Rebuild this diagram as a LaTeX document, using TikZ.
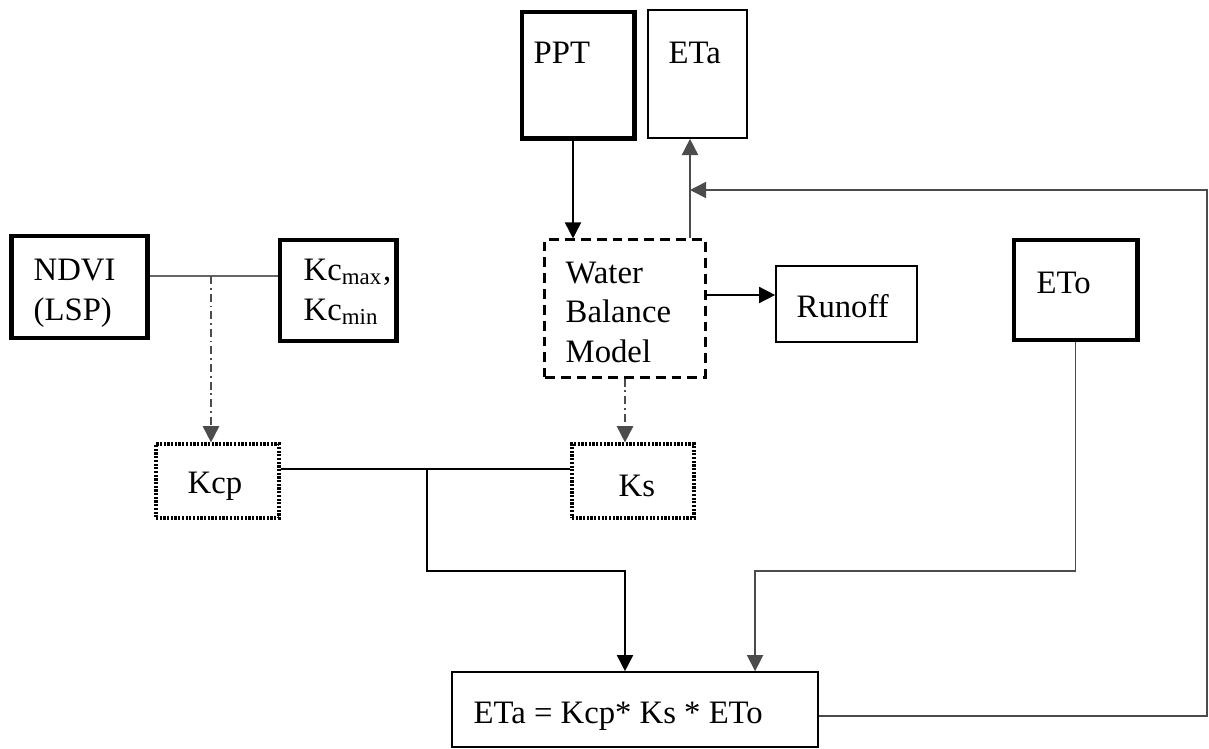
\documentclass[tikz,border=0pt]{standalone}
\usepackage{fontspec}
\setmainfont{Liberation Serif}
\usetikzlibrary{arrows.meta}

\tikzset{
	thickbox/.style = {draw, line width = 1.4pt, inner sep = 0pt},
	thinbox/.style = {draw, line width = 0.45pt, inner sep = 0pt},
	dashbox/.style = {draw, line width = 0.85pt, dash pattern = on 2.8pt off 1.7pt, inner sep = 0pt},
	dotbox/.style = {draw, line width = 0.9pt, dash pattern = on 0.65pt off 0.4pt, inner sep = 0pt},
	arr/.style = {-{Triangle[length = 4.6pt, width = 4.6pt]}, line width = 0.45pt},
	dashdot/.style = {draw = black!70, line width = 0.55pt, dash pattern = on 2.3pt off 1.1pt on 0.5pt off 1.1pt},
	txt/.style = {anchor = base west, inner sep = 0pt, align = left}
}

\begin{document}
\begin{tikzpicture} [x = 0.01cm, y = -0.01cm, font = \fontsize{9.3}{11.1}\selectfont]
		\useasboundingbox (0, 0) rectangle (1209, 748);

		% boxes (multi-line text sits on the base of its last line)
		\node[thickbox, minimum width = 1.35cm, minimum height = 1.02cm] (ndvi) at (79.5, 287) {};
		\node[txt] (ndviText) at (33, 320) {NDVI\\(LSP)};

		\node[thickbox, minimum width = 1.16cm, minimum height = 1.01cm] (kc) at (338, 290.5) {};
		\node[txt] (kcText) at (303, 320) {Kc\textsubscript{max},\\Kc\textsubscript{min}};

		\node[thickbox, minimum width = 1.12cm, minimum height = 1.26cm] (ppt) at (578, 75) {};
		\node[txt] (pptText) at (533, 63) {PPT};

		\node[thinbox, minimum width = 0.99cm, minimum height = 1.28cm] (eta) at (697.5, 74) {};
		\node[txt] (etaText) at (668, 63) {ETa};

		\node[dashbox, minimum width = 1.6cm, minimum height = 1.37cm] (wbm) at (625, 308.5) {};
		\node[txt] (wbmText) at (565, 362) {Water\\Balance\\Model};

		\node[thinbox, minimum width = 1.41cm, minimum height = 0.76cm] (runoff) at (846.5, 304) {};
		\node[txt] (runoffText) at (796, 317) {Runoff};

		\node[thickbox, minimum width = 1.23cm, minimum height = 1.0cm] (eto) at (1075.5, 290) {};
		\node[txt] (etoText) at (1036, 293) {ETo};

		\node[dotbox, minimum width = 1.23cm, minimum height = 0.74cm] (kcp) at (217.5, 481) {};
		\node[txt] (kcpText) at (187, 493) {Kcp};

		\node[dotbox, minimum width = 1.22cm, minimum height = 0.74cm] (ks) at (633, 481) {};
		\node[txt] (ksText) at (618, 496) {Ks};

		\node[thinbox, minimum width = 3.66cm, minimum height = 0.75cm] (etaeq) at (635, 709.5) {};
		\node[txt] (etaeqText) at (473, 723) {ETa = Kcp* Ks * ETo};

		% junctions
		\coordinate (ndvikc) at (211, 276);
		\coordinate (kmid) at (427, 469);
		\coordinate (kjoin) at (427, 571);
		\coordinate (etain) at (690, 190);
		\coordinate (loop) at (1207, 190);
		\coordinate (runin) at ([yshift = 0.09cm]runoff.west);
		\coordinate (eqa) at ([xshift = -0.1cm]etaeq.north);
		\coordinate (eqb) at ([xshift = 1.2cm]etaeq.north);
		\coordinate (eqout) at ([yshift = -0.065cm]etaeq.east);

		% edges
		\draw[draw = black!60, line width = 0.55pt] (ndvi.east |- ndvikc) -- (kc.west |- ndvikc);
		\draw[arr, dashdot] (ndvikc) -- (ndvikc |- kcp.north);
		\draw[arr] ([xshift = -0.05cm]ppt.south) -- ([xshift = -0.05cm]ppt.south |- wbm.north);
		\draw[arr, draw = black!70] (etain |- wbm.north) -- (etain |- eta.south);
		\draw[arr] (wbm.east |- runin) -- (runin);
		\draw[arr, dashdot] (wbm.south) -- (wbm.south |- ks.north);
		\draw[line width = 0.45pt] (kcp.east |- kmid) -- (ks.west |- kmid);
		\draw[arr] (kmid) -- (kjoin) -| (eqa);
		\draw[arr, draw = black!70] (eto.south) -- (eto.south |- kjoin) -| (eqb);
		\draw[arr, draw = black!70] (eqout) -| (loop) -- (etain);

\end{tikzpicture}
\end{document}
